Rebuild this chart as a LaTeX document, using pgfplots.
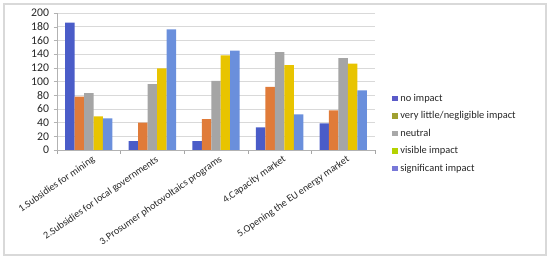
\documentclass[border=0pt]{standalone}
\usepackage{fontspec}
\setmainfont{Carlito}
\usepackage{pgfplots}
\pgfplotsset{compat=1.18}
\definecolor{barA}{HTML}{4A5CC8}
\definecolor{barB}{HTML}{E07B39}
\definecolor{barC}{HTML}{A5A5A5}
\definecolor{barD}{HTML}{E8C400}
\definecolor{barE}{HTML}{6A8FDC}
\definecolor{legA}{HTML}{5A5AC8}
\definecolor{legB}{HTML}{A0A030}
\definecolor{legC}{HTML}{A8A8A8}
\definecolor{legD}{HTML}{B4D200}
\definecolor{legE}{HTML}{7878D8}
\definecolor{gridc}{HTML}{D9D9D9}

\begin{document}
\begin{tikzpicture}
\useasboundingbox (-42.75pt,-81.75pt) rectangle (369.75pt,112.5pt);
\draw[color=gridc, line width=0.8pt] (-39.75pt,-78.75pt) rectangle (366.75pt,109.5pt);
\begin{axis}[
    at={(0,0)}, anchor=south west,
    scale only axis,
    width=238.5pt, height=102.75pt,
    ybar=0pt, bar width=7.1pt,
    xmin=-0.5, xmax=4.5,
    ymin=0, ymax=200,
    ytick={0,20,...,200},
    xtick={0,1,2,3,4},
    xticklabels={1.Subsidies for mining, 2.Subsidies for local governments, 3.Prosumer photovoltaics programs, 4.Capacity market, 5.Opening the EU energy market},
    major x tick style={draw=none},
    minor xtick={-0.5,0.5,1.5,2.5,3.5,4.5},
    minor x tick style={draw=gray!70},
    tick align=outside,
    major tick length=2.5pt, minor tick length=3pt,
    axis x line*=bottom, axis y line*=left,
    axis line style={draw=gray!60},
    y tick style={draw=gray!60},
    ymajorgrids, grid style={draw=gridc},
    /pgf/number format/assume math mode=true,
    y tick label style={font=\fontsize{8.8}{9}\selectfont, text=black!85},
    x tick label style={rotate=35, anchor=north east, font=\fontsize{7.6}{8}\selectfont, inner sep=1pt, xshift=2pt, yshift=-1pt, text=black!85},
    legend style={at={(1.041,0.45)}, anchor=north west, draw=none, fill=none,
        font=\fontsize{7.8}{8}\selectfont, row sep=2.2pt, text=black!85},
    legend cell align=left,
]
\addplot[fill=barA, draw=none, legend image code/.code={\fill[legA] (0pt,-2pt) rectangle (4pt,2pt);}]
    coordinates {(0,186) (1,13) (2,13) (3,33) (4,39)};
\addplot[fill=barB, draw=none, legend image code/.code={\fill[legB] (0pt,-2pt) rectangle (4pt,2pt);}]
    coordinates {(0,78) (1,40) (2,45) (3,92) (4,58)};
\addplot[fill=barC, draw=none, legend image code/.code={\fill[legC] (0pt,-2pt) rectangle (4pt,2pt);}]
    coordinates {(0,83) (1,96) (2,101) (3,143) (4,134)};
\addplot[fill=barD, draw=none, legend image code/.code={\fill[legD] (0pt,-2pt) rectangle (4pt,2pt);}]
    coordinates {(0,49) (1,119) (2,138) (3,124) (4,126)};
\addplot[fill=barE, draw=none, legend image code/.code={\fill[legE] (0pt,-2pt) rectangle (4pt,2pt);}]
    coordinates {(0,46) (1,176) (2,145) (3,52) (4,87)};
\legend{no impact, very little/negligible impact, neutral, visible impact, significant impact}
\end{axis}
\end{tikzpicture}
\end{document}
